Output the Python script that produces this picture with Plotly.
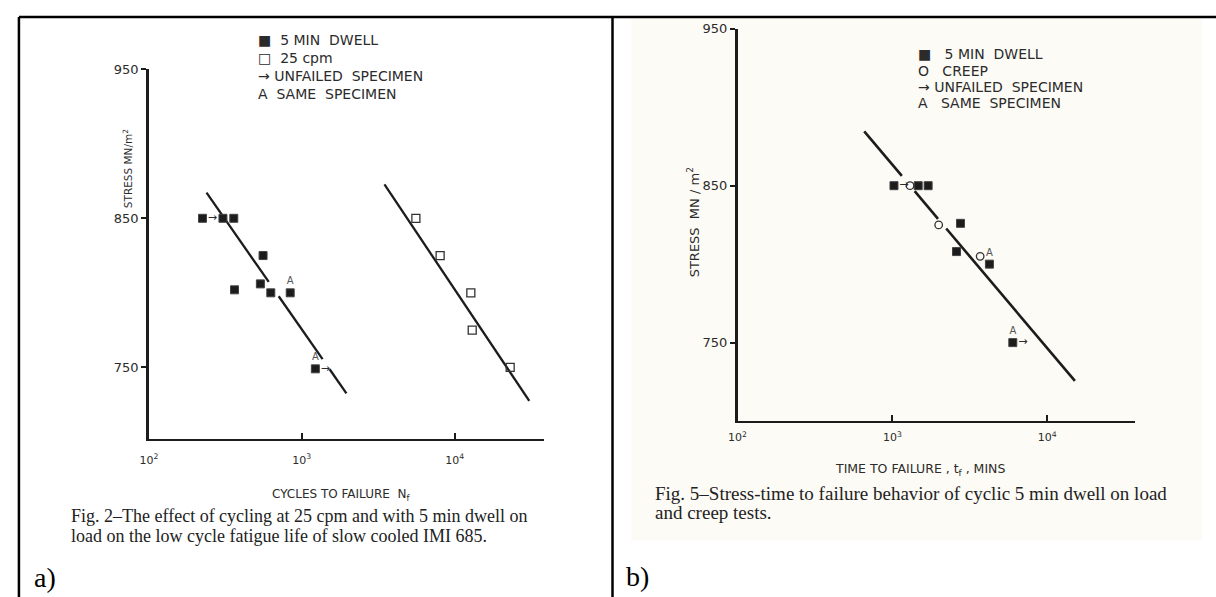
import math
import plotly.graph_objects as go

W, H = 1216, 597

# ---------------- Panel a) : cycles to failure ----------------
a_dwell_cycles = [224, 305, 359, 558, 363, 536, 627, 840, 1227]
a_dwell_stress = [850, 850, 850, 825, 802, 806, 800, 800, 749]
a_dwell_unfailed = [0, 8]
a_dwell_same = [7, 8]
a_cpm_cycles = [5580, 8040, 12770, 13040, 23100]
a_cpm_stress = [850, 825, 800, 775, 750]
a_fit_dwell_x = [238, 608, None, 706, 1368, None, 1521, 1959]
a_fit_dwell_y = [867.2, 807.3, None, 797.7, 755.5, None, 748.7, 732.5]
a_fit_cpm_x = [3475, 30800]
a_fit_cpm_y = [872.7, 727.5]
a_x_min, a_x_max = 100, 38460
a_y_min, a_y_max = 702, 950

# ---------------- Panel b) : time to failure ----------------
b_dwell_time = [1024, 1468, 1702, 2754, 2596, 4236, 5997]
b_dwell_stress = [850, 850, 850, 826, 808, 800, 750]
b_dwell_unfailed = [0, 6]
b_dwell_same = [5, 6]
b_creep_time = [1300, 1991, 3690]
b_creep_stress = [850, 825, 805]
b_fit_x = [658, 1151, None, 1393, 1972, None, 2228, 15100]
b_fit_y = [884.6, 856.2, None, 846.5, 828.9, None, 822.7, 725.6]
b_x_min, b_x_max = 100, 36700
b_y_min, b_y_max = 700, 950

x_tick_vals = [100, 1000, 10000]
x_tick_text = ["10<sup>2</sup>", "10<sup>3</sup>", "10<sup>4</sup>"]
y_tick_vals = [750, 850, 950]
y_tick_text = ["750", "850", "950"]

legend_a = ["■  5 MIN  DWELL", "□  25 cpm", "→ UNFAILED  SPECIMEN", "A  SAME  SPECIMEN"]
legend_b = ["■   5 MIN  DWELL", "O   CREEP", "→ UNFAILED  SPECIMEN", "A   SAME  SPECIMEN"]

caption_a = ["Fig. 2–The effect of cycling at 25 cpm and with 5 min dwell on",
             "load on the low cycle fatigue life of slow cooled IMI 685."]
caption_b = ["Fig. 5–Stress-time to failure behavior of cyclic 5 min dwell on load",
             "and creep tests."]

SANS = "DejaVu Sans"
SERIF = "Liberation Serif"
INK = "#1c1c1c"
TXT = "#2b2b2b"


def px(x):
    return x / W


def py(y):
    return 1 - y / H


def pick(seq, idx):
    return [seq[i] for i in idx]


fig = go.Figure()

# panel a traces
fig.add_trace(go.Scatter(x=a_fit_dwell_x, y=a_fit_dwell_y, mode="lines",
                         line=dict(color=INK, width=2.3), xaxis="x", yaxis="y"))
fig.add_trace(go.Scatter(x=a_fit_cpm_x, y=a_fit_cpm_y, mode="lines",
                         line=dict(color=INK, width=2.3), xaxis="x", yaxis="y"))
fig.add_trace(go.Scatter(x=a_dwell_cycles, y=a_dwell_stress, mode="markers",
                         marker=dict(symbol="square", size=8, color=INK,
                                     line=dict(color="#444", width=1)),
                         xaxis="x", yaxis="y"))
fig.add_trace(go.Scatter(x=a_cpm_cycles, y=a_cpm_stress, mode="markers",
                         marker=dict(symbol="square-open", size=8, color="#333",
                                     line=dict(width=1.3)),
                         xaxis="x", yaxis="y"))
fig.add_trace(go.Scatter(x=pick(a_dwell_cycles, a_dwell_unfailed),
                         y=pick(a_dwell_stress, a_dwell_unfailed),
                         mode="markers+text", text=["→"] * len(a_dwell_unfailed),
                         textposition="middle right",
                         marker=dict(size=7, color="rgba(0,0,0,0)"),
                         textfont=dict(family=SANS, size=11, color=TXT),
                         xaxis="x", yaxis="y"))
fig.add_trace(go.Scatter(x=pick(a_dwell_cycles, a_dwell_same),
                         y=pick(a_dwell_stress, a_dwell_same),
                         mode="markers+text", text=["A"] * len(a_dwell_same),
                         textposition="top center",
                         marker=dict(size=8, color="rgba(0,0,0,0)"),
                         textfont=dict(family=SANS, size=10, color="#555"),
                         xaxis="x", yaxis="y"))

# panel b traces
fig.add_trace(go.Scatter(x=b_fit_x, y=b_fit_y, mode="lines",
                         line=dict(color=INK, width=2.6), xaxis="x2", yaxis="y2"))
fig.add_trace(go.Scatter(x=b_dwell_time, y=b_dwell_stress, mode="markers",
                         marker=dict(symbol="square", size=8, color=INK,
                                     line=dict(color="#444", width=1)),
                         xaxis="x2", yaxis="y2"))
fig.add_trace(go.Scatter(x=b_creep_time, y=b_creep_stress, mode="markers",
                         marker=dict(symbol="circle-open", size=7.5, color="#333",
                                     line=dict(width=1.3)),
                         xaxis="x2", yaxis="y2"))
fig.add_trace(go.Scatter(x=pick(b_dwell_time, b_dwell_unfailed),
                         y=pick(b_dwell_stress, b_dwell_unfailed),
                         mode="markers+text", text=["→"] * len(b_dwell_unfailed),
                         textposition="middle right",
                         marker=dict(size=7, color="rgba(0,0,0,0)"),
                         textfont=dict(family=SANS, size=11, color=TXT),
                         xaxis="x2", yaxis="y2"))
fig.add_trace(go.Scatter(x=pick(b_dwell_time, b_dwell_same),
                         y=pick(b_dwell_stress, b_dwell_same),
                         mode="markers+text", text=["A"] * len(b_dwell_same),
                         textposition="top center",
                         marker=dict(size=8, color="rgba(0,0,0,0)"),
                         textfont=dict(family=SANS, size=10, color="#555"),
                         xaxis="x2", yaxis="y2"))

common_x = dict(type="log", showgrid=False, zeroline=False, showline=True,
                linecolor=INK, linewidth=2, ticks="inside", ticklen=6,
                tickwidth=1.5, tickcolor=INK,
                tickfont=dict(family=SANS, size=11, color=TXT))
common_y = dict(showgrid=False, zeroline=False, showline=True,
                linecolor=INK, linewidth=2.5, ticks="outside", ticklen=5,
                tickwidth=1.5, tickcolor=INK, tickvals=y_tick_vals,
                ticktext=y_tick_text,
                tickfont=dict(family=SANS, size=13, color=TXT))

fig.update_layout(
    width=W, height=H,
    margin=dict(l=0, r=0, t=0, b=0),
    paper_bgcolor="white", plot_bgcolor="rgba(0,0,0,0)",
    showlegend=False,
    xaxis=dict(common_x, domain=[px(141), px(539)],
               range=[math.log10(a_x_min), math.log10(a_x_max)],
               tickvals=x_tick_vals + [a_x_max], ticktext=x_tick_text + [""],
               anchor="y", ticklabelstandoff=10),
    yaxis=dict(common_y, domain=[py(437), py(63)], range=[a_y_min, a_y_max],
               anchor="x"),
    xaxis2=dict(common_x, domain=[px(734), px(1134)],
                range=[math.log10(b_x_min), math.log10(b_x_max)],
                tickvals=x_tick_vals, ticktext=x_tick_text,
                anchor="y2", ticklabelstandoff=5),
    yaxis2=dict(common_y, domain=[py(419), py(22)], range=[b_y_min, b_y_max],
                anchor="x2"),
)

shapes = [
    dict(type="rect", xref="paper", yref="paper", x0=px(627), x1=px(1202),
         y0=py(540), y1=py(10), fillcolor="#fdfbf6", line=dict(width=0),
         layer="below"),
    dict(type="line", xref="paper", yref="paper", x0=px(10), x1=px(1216),
         y0=py(10), y1=py(10), line=dict(color="black", width=2.5)),
    dict(type="line", xref="paper", yref="paper", x0=px(10), x1=px(10),
         y0=py(10), y1=py(597), line=dict(color="black", width=2.5)),
    dict(type="line", xref="paper", yref="paper", x0=px(608), x1=px(608),
         y0=py(10), y1=py(597), line=dict(color="black", width=2.5)),
]
fig.update_layout(shapes=shapes)

ann = []


def add_text(text, x, y, size, family=SANS, xanchor="left", angle=0, color=TXT):
    ann.append(dict(text=text, x=px(x), y=py(y), xref="paper", yref="paper",
                    showarrow=False, xanchor=xanchor, yanchor="middle",
                    textangle=angle, font=dict(family=family, size=size, color=color)))


for i, t in enumerate(legend_a):
    add_text(t, 249, 33 + i * 18.3, 14)
for i, t in enumerate(legend_b):
    add_text(t, 914, 48 + i * 16.5, 14)

add_text("STRESS MN/m<sup>2</sup>", 119, 164, 10.5, xanchor="center", angle=-90)
add_text("STRESS  MN / m<sup>2</sup>", 690, 218, 13, xanchor="center", angle=-90)
add_text("CYCLES TO FAILURE  N<sub>f</sub>", 334, 494, 12, xanchor="center")
add_text("TIME TO FAILURE , t<sub>f</sub> , MINS", 918, 468, 12.5, xanchor="center")

add_text(caption_a[0], 60, 515, 18, family=SERIF, color="#222")
add_text(caption_a[1], 60, 535, 18, family=SERIF, color="#222")
add_text(caption_b[0], 649, 492, 19, family=SERIF, color="#222")
add_text(caption_b[1], 649, 511, 19, family=SERIF, color="#222")

add_text("a)", 23, 577, 28, family=SERIF, color="black")
add_text("b)", 620, 576, 28, family=SERIF, color="black")

fig.update_layout(annotations=ann)

fig.write_html(
    "out.html",
    config={"displayModeBar": False},
    post_script=(
        "document.documentElement.style.margin='0';"
        "document.documentElement.style.overflow='hidden';"
        "document.body.style.margin='0';document.body.style.padding='0';"
        "document.body.style.overflow='hidden';"
        "var d=document.getElementById('{plot_id}');"
        "d.style.position='fixed';d.style.left='0px';d.style.top='0px';"
    ),
)
